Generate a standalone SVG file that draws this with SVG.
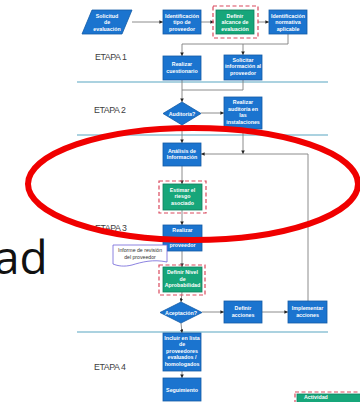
<svg xmlns="http://www.w3.org/2000/svg" width="360" height="402" viewBox="0 0 360 402">
<defs>
<marker id="ah" viewBox="0 0 6 6" refX="6" refY="3" markerWidth="4" markerHeight="4" orient="auto">
<path d="M0,0 L6,3 L0,6 z" fill="#222"/>
</marker>
<style>
.b{fill:#1b74cf;stroke:#125ba6;stroke-width:0.8}
.g{fill:#17a67a;stroke:#0f7f5c;stroke-width:0.8}
.d{fill:none;stroke:#d9485c;stroke-width:1.2;stroke-dasharray:4 2.5}
.t{font-family:"Liberation Sans",Arial,sans-serif;font-size:5.3px;font-weight:bold;fill:#fff;text-anchor:middle}
.c{fill:none;stroke:#808080;stroke-width:0.9}
.ca{fill:none;stroke:#808080;stroke-width:0.9;marker-end:url(#ah)}
.sep{stroke:#8fc3d6;stroke-width:1.5}
.et{font-family:"Liberation Sans",Arial,sans-serif;font-size:8.8px;fill:#404040}
</style>
</defs>
<rect width="360" height="402" fill="#fff"/>
<g id="separators">
<line class="sep" x1="77" y1="82" x2="328" y2="82"/>
<line class="sep" x1="77" y1="135" x2="328" y2="135"/>
<line class="sep" x1="77" y1="332" x2="328" y2="332"/>
</g>
<g id="labels">
<text class="et" x="95" y="60" textLength="32">ETAPA 1</text>
<text class="et" x="94" y="113" textLength="32">ETAPA 2</text>
<text class="et" x="95" y="231" textLength="32">ETAPA 3</text>
<text class="et" x="94" y="370" textLength="32">ETAPA 4</text>
<text x="-6" y="274" font-family="'Open Sans','Liberation Sans',sans-serif" font-size="46" fill="#111">ad</text>
</g>
<g id="connectors">
<line class="ca" x1="132" y1="22" x2="163" y2="22"/>
<line class="ca" x1="201" y1="22" x2="214" y2="22"/>
<line class="ca" x1="258" y1="22" x2="269" y2="22"/>
<polyline class="c" points="288,34 288,44 182,44"/>
<line class="ca" x1="182" y1="44" x2="182" y2="56"/>
<line class="ca" x1="243" y1="44" x2="243" y2="55"/>
<line class="ca" x1="182" y1="80" x2="182" y2="102"/>
<polyline class="c" points="243,80 243,90 182,90"/>
<line class="ca" x1="201" y1="113" x2="224" y2="113"/>
<line class="ca" x1="182" y1="125" x2="182" y2="143"/>
<line class="ca" x1="243" y1="129" x2="243" y2="154"/>
<polyline class="ca" points="308,301 308,154 201,154"/>
<line class="ca" x1="182" y1="166" x2="182" y2="184"/>
<line class="ca" x1="182" y1="210" x2="182" y2="225"/>
<line class="ca" x1="182" y1="251" x2="182" y2="267"/>
<line class="ca" x1="182" y1="292" x2="181" y2="302"/>
<line class="ca" x1="202" y1="312" x2="224" y2="312"/>
<line class="ca" x1="262" y1="312" x2="288" y2="312"/>
<line class="ca" x1="181" y1="323" x2="182" y2="333"/>
<line class="ca" x1="182" y1="371" x2="182" y2="378"/>
</g>
<g id="n1">
<polygon class="b" points="92,10 132,10 122,34 82,34"/>
<text class="t" x="107" y="17.5">Solicitud</text><text class="t" x="107" y="24">de</text><text class="t" x="107" y="30.5">evaluación</text>
</g>
<g id="n2">
<rect class="b" x="163" y="10" width="38" height="24"/>
<text class="t" x="182" y="17.5">Identificación</text><text class="t" x="182" y="24">tipo de</text><text class="t" x="182" y="30.5">proveedor</text>
</g>
<g id="n3">
<rect class="d" x="213" y="6" width="45" height="32"/>
<rect class="g" x="216" y="10" width="38" height="24"/>
<text class="t" x="235" y="17.5">Definir</text><text class="t" x="235" y="24">alcance de</text><text class="t" x="235" y="30.5">evaluación</text>
</g>
<g id="n4">
<rect class="b" x="269" y="10" width="38" height="24"/>
<text class="t" x="288" y="17.5">Identificación</text><text class="t" x="288" y="24">normativa</text><text class="t" x="288" y="30.5">aplicable</text>
</g>
<g id="n5">
<rect class="b" x="163" y="56" width="38" height="24"/>
<text class="t" x="182" y="66">Realizar</text><text class="t" x="182" y="72.5">cuestionario</text>
</g>
<g id="n6">
<rect class="b" x="224" y="55" width="38" height="25"/>
<text class="t" x="243" y="61.5">Solicitar</text><text class="t" x="243" y="68">información al</text><text class="t" x="243" y="74.5">proveedor</text>
</g>
<g id="n7">
<polygon class="b" points="182,102 201,113.5 182,125 163,113.5"/>
<text class="t" x="182" y="115.5">Auditoría?</text>
</g>
<g id="n8">
<rect class="b" x="224" y="97" width="38" height="32"/>
<text class="t" x="243" y="104">Realizar</text><text class="t" x="243" y="110.5">auditoría en</text><text class="t" x="243" y="117">las</text><text class="t" x="243" y="123.5">instalaciones</text>
</g>
<g id="n9">
<rect class="b" x="163" y="143" width="38" height="23"/>
<text class="t" x="182" y="152.5">Análisis de</text><text class="t" x="182" y="159">Información</text>
</g>
<g id="n10">
<rect class="d" x="159" y="181" width="47" height="32"/>
<rect class="g" x="163" y="184" width="39" height="26"/>
<text class="t" x="182.5" y="191.5">Estimar el</text><text class="t" x="182.5" y="198">riesgo</text><text class="t" x="182.5" y="204.5">asociado</text>
</g>
<g id="n11">
<rect class="b" x="163" y="225" width="39" height="26"/>
<text class="t" x="182.5" y="232">Realizar</text><text class="t" x="182.5" y="246.5">proveedor</text>
</g>
<g id="n12">
<path d="M113,245 H167 V262 C153,259 142,262 132,265 C124,267 118,266 113,264 Z" fill="#fff" stroke="#6f63d8" stroke-width="0.8"/>
<text x="140" y="252" font-family="'Liberation Sans',Arial,sans-serif" font-size="5.2" fill="#333" text-anchor="middle">Informe de revisión</text>
<text x="140" y="258.5" font-family="'Liberation Sans',Arial,sans-serif" font-size="5.2" fill="#333" text-anchor="middle">del proveedor</text>
</g>
<g id="n13">
<rect class="d" x="159" y="265" width="46" height="30"/>
<rect class="g" x="163" y="267" width="39" height="25"/>
<text class="t" x="182.5" y="274">Definir Nivel</text><text class="t" x="182.5" y="280.5">de</text><text class="t" x="182.5" y="287">Aprobabilidad</text>
</g>
<g id="n14">
<polygon class="b" points="181,302 202,312.5 181,323 160,312.5"/>
<text class="t" x="181" y="314.5">Aceptación?</text>
</g>
<g id="n15">
<rect class="b" x="224" y="301" width="38" height="22"/>
<text class="t" x="243" y="310">Definir</text><text class="t" x="243" y="316.5">acciones</text>
</g>
<g id="n16">
<rect class="b" x="288" y="301" width="39" height="22"/>
<text class="t" x="307.5" y="310">Implementar</text><text class="t" x="307.5" y="316.5">acciones</text>
</g>
<g id="n17">
<rect class="b" x="163" y="333" width="38" height="38"/>
<text class="t" x="182" y="339.5">Incluir en lista</text><text class="t" x="182" y="346">de</text><text class="t" x="182" y="352.5">proveedores</text><text class="t" x="182" y="359">evaluados /</text><text class="t" x="182" y="365.5">homologados</text>
</g>
<g id="n18">
<rect class="b" x="163" y="378" width="38" height="23"/>
<text class="t" x="182" y="391.5">Seguimiento</text>
</g>
<g id="legend">
<rect class="d" x="295" y="392" width="70" height="14"/>
<rect class="g" x="297" y="394" width="66" height="10"/>
<text class="t" x="304" y="399" text-anchor="start" style="text-anchor:start">Actividad</text>
</g>
<ellipse cx="193" cy="184" rx="165" ry="56" fill="none" stroke="#f00000" stroke-width="6"/>
</svg>
